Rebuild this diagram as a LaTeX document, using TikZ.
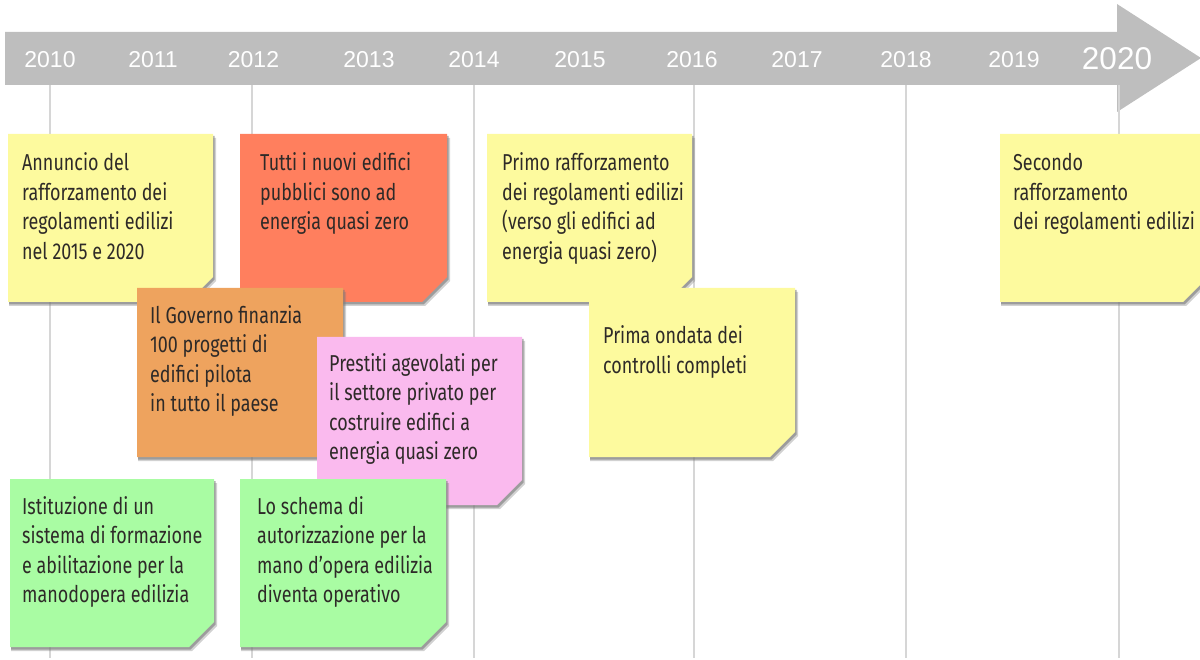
\documentclass[tikz,border=0pt]{standalone}
\usepackage{fontspec}
\setmainfont{Fira Sans}[FakeStretch=0.78]
\newfontfamily\yearfont{Liberation Sans}
\definecolor{noteyellow}{HTML}{FDFA9E}
\definecolor{notered}{HTML}{FF7F5E}
\definecolor{noteorange}{HTML}{EEA35E}
\definecolor{notepink}{HTML}{FABAEE}
\definecolor{notegreen}{HTML}{A9FCA3}
\definecolor{barc}{HTML}{BEBEBE}
\definecolor{gridc}{HTML}{D6D6D6}
\definecolor{txtc}{HTML}{2E2A28}
\definecolor{shadowc}{HTML}{7A7A7A}
\newcommand\mynote[5]{%
  \fill[shadowc,opacity=0.35] (#1+1,#2+4) -- (#3+3,#2+4) -- (#3+3,#4+4-25) -- (#3+3-25,#4+4) -- (#1+1,#4+4) -- cycle;
  \fill[shadowc,opacity=0.6] (#1+1,#2+2) -- (#3+1.5,#2+2) -- (#3+1.5,#4+2.5-25) -- (#3+1.5-25,#4+2.5) -- (#1+1,#4+2.5) -- cycle;
  \fill[#5] (#1,#2) -- (#3,#2) -- (#3,#4-25) -- (#3-25,#4) -- (#1,#4) -- cycle;}
\begin{document}
\begin{tikzpicture}[x=1pt,y=-1pt,
  notetext/.style={anchor=base west, align=left, inner sep=0pt, text=txtc,
    font=\fontsize{23}{29.5}\selectfont},
  yearlbl/.style={text=white, inner sep=0pt, font=\yearfont\fontsize{23}{23}\selectfont},
  bigyear/.style={text=white, inner sep=0pt, font=\yearfont\fontsize{31.5}{31.5}\selectfont},
  gridline/.style={draw=gridc, line width=2pt}]
\useasboundingbox (0,0) rectangle (1200,660);
\begin{scope}
\clip (0,0) rectangle (1200,660);
% timeline arrow
\fill[barc] (5,32) -- (1117,32) -- (1117,4) -- (1201,58) -- (1117,112) -- (1117,85) -- (5,85) -- cycle;
% grid lines
\foreach \gx/\gn in {50/g2010,252/g2012,474/g2014,694/g2016,906/g2018,1119/g2020} {
  \coordinate (\gn top) at (\gx,85);
  \coordinate (\gn bot) at (\gx,658);
  \draw[gridline] (\gn top) -- (\gn bot);
}
% years
\node[yearlbl] (y2010) at (50,60) {2010};
\node[yearlbl] (y2011) at (153,60) {2011};
\node[yearlbl] (y2012) at (253.5,60) {2012};
\node[yearlbl] (y2013) at (369,60) {2013};
\node[yearlbl] (y2014) at (474,60) {2014};
\node[yearlbl] (y2015) at (580,60) {2015};
\node[yearlbl] (y2016) at (692,60) {2016};
\node[yearlbl] (y2017) at (797,60) {2017};
\node[yearlbl] (y2018) at (906,60) {2018};
\node[yearlbl] (y2019) at (1014,60) {2019};
\node[bigyear] (y2020) at (1117,59) {2020};
% notes (node placed at baseline of the LAST line)
\mynote{8}{134}{213}{302}{noteyellow}
\node[notetext] (n1) at (22,259.5) {Annuncio del\\rafforzamento dei\\regolamenti edilizi\\nel 2015 e 2020};
\mynote{240}{134}{447}{302}{notered}
\node[notetext] (n2) at (260,230) {Tutti i nuovi edifici\\pubblici sono ad\\energia quasi zero};
\mynote{137}{288}{343}{457}{noteorange}
\node[notetext] (n3) at (150,411.5) {Il Governo finanzia\\100 progetti di\\edifici pilota\\in tutto il paese};
\mynote{317}{337}{522}{505}{notepink}
\node[notetext] (n4) at (329,459.5) {Prestiti agevolati per\\il settore privato per\\costruire edifici a\\energia quasi zero};
\mynote{10}{479}{214}{647}{notegreen}
\node[notetext] (n5) at (22,602.5) {Istituzione di un\\sistema di formazione\\e abilitazione per la\\manodopera edilizia};
\mynote{240}{479}{446}{647}{notegreen}
\node[notetext] (n6) at (257,602.5) {Lo schema di\\autorizzazione per la\\mano d'opera edilizia\\diventa operativo};
\mynote{487}{134}{692}{302}{noteyellow}
\node[notetext] (n7) at (502,259.5) {Primo rafforzamento\\dei regolamenti edilizi\\(verso gli edifici ad\\energia quasi zero)};
\mynote{589}{288}{795}{457}{noteyellow}
\node[notetext] (n8) at (603,373.5) {Prima ondata dei\\controlli completi};
\mynote{1000}{134}{1208}{302}{noteyellow}
\node[notetext] (n9) at (1013,230) {Secondo\\rafforzamento\\dei regolamenti edilizi};
\end{scope}
\end{tikzpicture}
\end{document}
